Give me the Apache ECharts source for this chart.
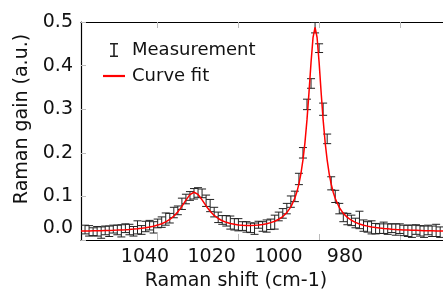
<!DOCTYPE html>
<html><head><meta charset="utf-8">
<script src="https://cdn.jsdelivr.net/npm/echarts@6/dist/echarts.min.js"></script>
<style>html,body{margin:0;padding:0;background:#fff}#c{width:443px;height:296px}</style>
</head><body><div id="c"></div>
<script>
const xTicks = [1040, 1020, 1000, 980];
const yTicks = [0, 0.1, 0.2, 0.3, 0.4, 0.5];
const seriesNames = ['Measurement', 'Curve fit'];

const measX = [1058,1057,1056,1055,1054,1053,1052,1051,1050,1049,1048,1047,1046,1045,1044,1043,1042,1041,1040,1039,1038,1037,1036,1035,1034,1033,1032,1031,1030,1029,1028,1027,1026,1025,1024,1023,1022,1021,1020,1019,1018,1017,1016,1015,1014,1013,1012,1011,1010,1009,1008,1007,1006,1005,1004,1003,1002,1001,1000,999,998,997,996,995,994,993,992,991,990,989,988,987,986,985,984,983,982,981,980,979,978,977,976,975,974,973,972,971,970];
const measY = [0.024,0.021,0.019,0.020,0.017,0.022,0.020,0.025,0.023,0.021,0.027,0.024,0.020,0.029,0.023,0.031,0.034,0.029,0.038,0.041,0.048,0.050,0.063,0.068,0.083,0.094,0.101,0.106,0.109,0.107,0.090,0.079,0.064,0.052,0.046,0.044,0.040,0.036,0.035,0.032,0.030,0.028,0.026,0.035,0.031,0.032,0.036,0.041,0.054,0.061,0.072,0.088,0.100,0.140,0.200,0.311,0.359,0.487,0.440,0.300,0.232,0.130,0.100,0.072,0.052,0.048,0.045,0.039,0.046,0.033,0.030,0.029,0.026,0.026,0.028,0.025,0.027,0.024,0.026,0.022,0.021,0.020,0.024,0.021,0.019,0.023,0.020,0.022,0.018];
const measErr = [0.010,0.012,0.009,0.011,0.013,0.010,0.012,0.009,0.011,0.014,0.010,0.012,0.011,0.015,0.010,0.012,0.011,0.013,0.010,0.012,0.014,0.011,0.012,0.010,0.013,0.011,0.010,0.012,0.011,0.010,0.013,0.014,0.011,0.012,0.010,0.012,0.015,0.013,0.014,0.010,0.012,0.011,0.013,0.008,0.011,0.014,0.012,0.016,0.010,0.011,0.012,0.013,0.012,0.013,0.012,0.012,0.011,0.012,0.010,0.014,0.011,0.015,0.014,0.012,0.010,0.013,0.012,0.011,0.020,0.013,0.012,0.015,0.012,0.011,0.013,0.012,0.010,0.013,0.011,0.012,0.013,0.014,0.011,0.012,0.013,0.011,0.012,0.014,0.012];

const fitX = [1059,1058,1057,1056,1055,1054,1053,1052,1051,1050,1049,1048,1047,1046,1045,1044,1043,1042,1041,1040,1039,1038,1037,1036,1035,1034,1033,1032,1031,1030,1029,1028,1027,1026,1025,1024,1023,1022,1021,1020,1019,1018,1017,1016,1015,1014,1013,1012,1011,1010,1009,1008,1007,1006,1005.5,1005,1004.5,1004,1003.5,1003,1002.5,1002,1001.5,1001,1000.5,1000,999.5,999,998.5,998,997.5,997,996.5,996,995,994,993,992,991,990,989,988,987,986,985,984,983,982,981,980,979,978,977,976,975,974,973,972,971,970,969];
const fitY = [0.0205,0.0206,0.0208,0.0210,0.0212,0.0214,0.0217,0.0220,0.0223,0.0227,0.0232,0.0237,0.0243,0.0250,0.0259,0.0269,0.0282,0.0298,0.0317,0.0342,0.0374,0.0416,0.0471,0.0546,0.0645,0.0771,0.0914,0.1042,0.1095,0.1045,0.0921,0.0781,0.0658,0.0563,0.0493,0.0442,0.0405,0.0378,0.0359,0.0346,0.0338,0.0335,0.0334,0.0338,0.0345,0.0357,0.0374,0.0398,0.0430,0.0475,0.0538,0.0627,0.0759,0.0961,0.1105,0.1288,0.1525,0.1836,0.2241,0.2760,0.3392,0.4075,0.4646,0.4876,0.4645,0.4073,0.3389,0.2756,0.2235,0.1830,0.1517,0.1279,0.1095,0.0951,0.0746,0.0611,0.0519,0.0453,0.0405,0.0368,0.0340,0.0318,0.0300,0.0286,0.0274,0.0264,0.0256,0.0248,0.0242,0.0237,0.0232,0.0228,0.0224,0.0221,0.0218,0.0215,0.0213,0.0211,0.0209,0.0207,0.0206];

const FONT = 'DejaVu Sans';
const TXT = '#111';
const chart = echarts.init(document.getElementById('c'), null, {renderer: 'canvas'});

const measData = measX.map((x, i) => [x, measY[i], measErr[i]]);
const fitData = fitX.map((x, i) => [x, fitY[i]]);

const tickStyle = {show: true, inside: true, length: 6, lineStyle: {color: '#bbb', width: 1}, customValues: xTicks};

chart.setOption({
  animation: false,
  grid: {left: 81, right: 0, top: 22, bottom: 54, containLabel: false},
  legend: {
    orient: 'vertical', left: 98, top: 36, itemWidth: 22, itemHeight: 14, itemGap: 8,
    textStyle: {fontFamily: FONT, fontSize: 18, color: TXT, padding: [0, 0, 0, 2]},
    data: [
      {name: seriesNames[0], icon: 'path://M0,0H8V1.6H4.8V12.4H8V14H0V12.4H3.2V1.6H0Z', itemStyle: {color: '#222'}},
      {name: seriesNames[1], icon: 'path://M0,0H20V2H0Z', itemStyle: {color: '#ff0000'}}
    ]
  },
  xAxis: [
    {
      type: 'value', position: 'bottom', inverse: true, min: 969.3, max: 1059,
      axisLine: {show: true, lineStyle: {color: '#000', width: 1.2}},
      axisTick: tickStyle, axisLabel: {show: false}, splitLine: {show: false},
      name: 'Raman shift (cm-1)', nameLocation: 'middle', nameGap: 32,
      nameTextStyle: {fontFamily: FONT, fontSize: 19, color: TXT, padding: [0, 52, 0, 0]}
    },
    {
      type: 'value', position: 'bottom', inverse: true, min: 950.6, max: 1059.2,
      axisLine: {show: false}, axisTick: {show: false}, splitLine: {show: false},
      axisLabel: {show: true, customValues: xTicks, margin: 8, fontFamily: FONT, fontSize: 19, color: TXT,
        formatter: v => String(v)}
    },
    {
      type: 'value', position: 'top', inverse: true, min: 969.3, max: 1059,
      axisLine: {show: true, lineStyle: {color: '#000', width: 1.2}},
      axisTick: tickStyle, axisLabel: {show: false}, splitLine: {show: false}
    }
  ],
  yAxis: {
    type: 'value', min: 0, max: 0.5, interval: 0.1,
    axisLine: {show: true, lineStyle: {color: '#000', width: 1.2}},
    axisTick: {show: true, inside: true, length: 5, lineStyle: {color: '#bbb'}},
    splitLine: {show: false},
    axisLabel: {
      margin: 8, fontFamily: FONT, fontSize: 19, color: TXT,
      formatter: v => v === 0 ? '{z|0.0}' : v.toFixed(1),
      rich: {z: {fontFamily: FONT, fontSize: 19, color: TXT, padding: [0, 0, 24, 0]}}
    },
    name: 'Raman gain (a.u.)', nameLocation: 'middle', nameGap: 46,
    nameTextStyle: {fontFamily: FONT, fontSize: 19, color: TXT, padding: [0, 0, 0, 24]}
  },
  series: [
    {
      name: seriesNames[0], type: 'custom', xAxisIndex: 0, yAxisIndex: 0,
      data: measData, encode: {x: 0, y: 1}, clip: true, z: 2,
      renderItem: function (params, api) {
        const x = api.value(0), y = api.value(1), e = api.value(2);
        const t = api.coord([x, y + e]);
        const b = api.coord([x, y - e]);
        const hw = 4;
        const st = {stroke: '#222', lineWidth: 1};
        return {type: 'group', children: [
          {type: 'line', shape: {x1: t[0], y1: t[1], x2: b[0], y2: b[1]}, style: st},
          {type: 'line', shape: {x1: t[0] - hw, y1: t[1], x2: t[0] + hw, y2: t[1]}, style: st},
          {type: 'line', shape: {x1: b[0] - hw, y1: b[1], x2: b[0] + hw, y2: b[1]}, style: st}
        ]};
      }
    },
    {
      name: seriesNames[1], type: 'line', xAxisIndex: 0, yAxisIndex: 0,
      data: fitData, showSymbol: false, smooth: false, z: 3,
      lineStyle: {color: '#ff0000', width: 1.5}, itemStyle: {color: '#ff0000'}
    }
  ]
});
</script>
</body></html>
